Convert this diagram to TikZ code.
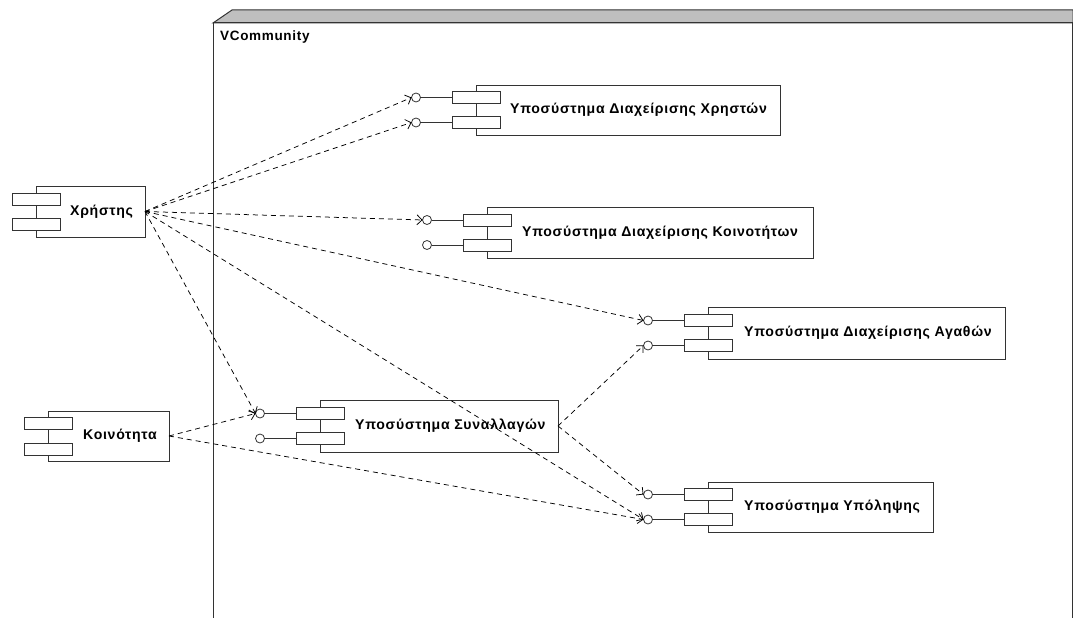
\documentclass[tikz,border=0pt]{standalone}
\usepackage{fontspec}
\setmainfont{Liberation Sans}
\newfontfamily\lblfont[LetterSpace=5]{Liberation Sans}
\usetikzlibrary{arrows.meta,positioning}

\tikzset{
  comp/.style={draw=black!80, line width=0.8pt, fill=white, anchor=north west, inner sep=0pt, outer sep=0pt},
  port/.style={draw=black!80, line width=0.8pt, fill=white, minimum width=48pt, minimum height=12pt, inner sep=0pt, outer sep=0pt},
  sock/.style={draw=black!80, line width=0.8pt, circle, minimum size=9pt, inner sep=0pt, outer sep=0pt},
  lbl/.style={anchor=west, inner sep=0pt, font=\lblfont\bfseries\fontsize{14.1}{17}\selectfont},
  dep/.style={draw=black, line width=0.75pt, dash pattern=on 5pt off 4pt, -{Straight Barb[length=5pt,width=10pt,line width=0.75pt]}},
  wire/.style={draw=black!80, line width=0.8pt}
}

\begin{document}
\begin{tikzpicture}[x=1pt,y=-1pt]
  \useasboundingbox (0,0) rectangle (1073,618);

  % Paket
  \filldraw[fill=black!25, draw=black!80, line width=1pt] (213,23) -- (232,10) -- (1073,10) -- (1073,23) -- cycle;
  \draw[black!80, line width=1pt] (213,618) -- (213,23) -- (1072,23) -- (1072,618);
  \node[lbl, font=\lblfont\bfseries\fontsize{13.5}{16}\selectfont] (pkg) at (220,37) {VCommunity};

  % Χρήστης
  \node[comp, minimum width=109pt, minimum height=51pt] (user) at (36,186) {};
  \node[port] (userpa) at ([yshift=12.5pt]user.west) {};
  \node[port] (userpb) at ([yshift=-12.5pt]user.west) {};
  \node[lbl] (userl) at ([xshift=34pt]user.west) {Χρήστης};

  % Κοινότητα
  \node[comp, minimum width=121pt, minimum height=50pt] (comm) at (48,411) {};
  \node[port] (commpa) at ([yshift=13pt]comm.west) {};
  \node[port] (commpb) at ([yshift=-13pt]comm.west) {};
  \node[lbl] (comml) at ([xshift=35pt]comm.west) {Κοινότητα};

  % Υποσύστημα Διαχείρισης Χρηστών
  \node[comp, minimum width=304pt, minimum height=50pt] (ssx) at (476,85) {};
  \node[port] (ssxpa) at ([yshift=12.5pt]ssx.west) {};
  \node[port] (ssxpb) at ([yshift=-12.5pt]ssx.west) {};
  \node[sock] (ssxsa) at ([xshift=-60pt]ssxpa.center) {};
  \node[sock] (ssxsb) at ([xshift=-60pt]ssxpb.center) {};
  \draw[wire] (ssxsa) -- (ssxpa);
  \draw[wire] (ssxsb) -- (ssxpb);
  \node[lbl] (ssxl) at ([xshift=34pt]ssx.west) {Υποσύστημα Διαχείρισης Χρηστών};

  % Υποσύστημα Διαχείρισης Κοινοτήτων
  \node[comp, minimum width=326pt, minimum height=51pt] (ssk) at (487,207) {};
  \node[port] (sskpa) at ([yshift=12.5pt]ssk.west) {};
  \node[port] (sskpb) at ([yshift=-12.5pt]ssk.west) {};
  \node[sock] (ssksa) at ([xshift=-60pt]sskpa.center) {};
  \node[sock] (ssksb) at ([xshift=-60pt]sskpb.center) {};
  \draw[wire] (ssksa) -- (sskpa);
  \draw[wire] (ssksb) -- (sskpb);
  \node[lbl] (sskl) at ([xshift=35pt]ssk.west) {Υποσύστημα Διαχείρισης Κοινοτήτων};

  % Υποσύστημα Διαχείρισης Αγαθών
  \node[comp, minimum width=297pt, minimum height=52pt] (ssa) at (708,307) {};
  \node[port] (ssapa) at ([yshift=12.5pt]ssa.west) {};
  \node[port] (ssapb) at ([yshift=-12.5pt]ssa.west) {};
  \node[sock] (ssasa) at ([xshift=-60pt]ssapa.center) {};
  \node[sock] (ssasb) at ([xshift=-60pt]ssapb.center) {};
  \draw[wire] (ssasa) -- (ssapa);
  \draw[wire] (ssasb) -- (ssapb);
  \node[lbl] (ssal) at ([xshift=36pt]ssa.west) {Υποσύστημα Διαχείρισης Αγαθών};

  % Υποσύστημα Συναλλαγών
  \node[comp, minimum width=238pt, minimum height=52pt] (ssn) at (320,400) {};
  \node[port] (ssnpa) at ([yshift=12.5pt]ssn.west) {};
  \node[port] (ssnpb) at ([yshift=-12.5pt]ssn.west) {};
  \node[sock] (ssnsa) at ([xshift=-60pt]ssnpa.center) {};
  \node[sock] (ssnsb) at ([xshift=-60pt]ssnpb.center) {};
  \draw[wire] (ssnsa) -- (ssnpa);
  \draw[wire] (ssnsb) -- (ssnpb);
  \node[lbl] (ssnl) at ([xshift=35pt]ssn.west) {Υποσύστημα Συναλλαγών};

  % Υποσύστημα Υπόληψης
  \node[comp, minimum width=225pt, minimum height=50pt] (ssy) at (708,482) {};
  \node[port] (ssypa) at ([yshift=12.5pt]ssy.west) {};
  \node[port] (ssypb) at ([yshift=-12.5pt]ssy.west) {};
  \node[sock] (ssysa) at ([xshift=-60pt]ssypa.center) {};
  \node[sock] (ssysb) at ([xshift=-60pt]ssypb.center) {};
  \draw[wire] (ssysa) -- (ssypa);
  \draw[wire] (ssysb) -- (ssypb);
  \node[lbl] (ssyl) at ([xshift=36pt]ssy.west) {Υποσύστημα Υπόληψης};

  % Abhaengigkeiten
  \draw[dep] (user.east) -- (ssxsa.west);
  \draw[dep] (user.east) -- (ssxsb.west);
  \draw[dep] (user.east) -- (ssksa.west);
  \draw[dep] (user.east) -- (ssasa.west);
  \draw[dep] (user.east) -- (ssnsa.west);
  \draw[dep] (user.east) -- (ssysb.west);
  \draw[dep] (comm.east) -- (ssnsa.west);
  \draw[dep] (comm.east) -- (ssysb.west);
  \draw[dep] (ssn.east) -- (ssasb.west);
  \draw[dep] (ssn.east) -- (ssysa.west);
\end{tikzpicture}
\end{document}
